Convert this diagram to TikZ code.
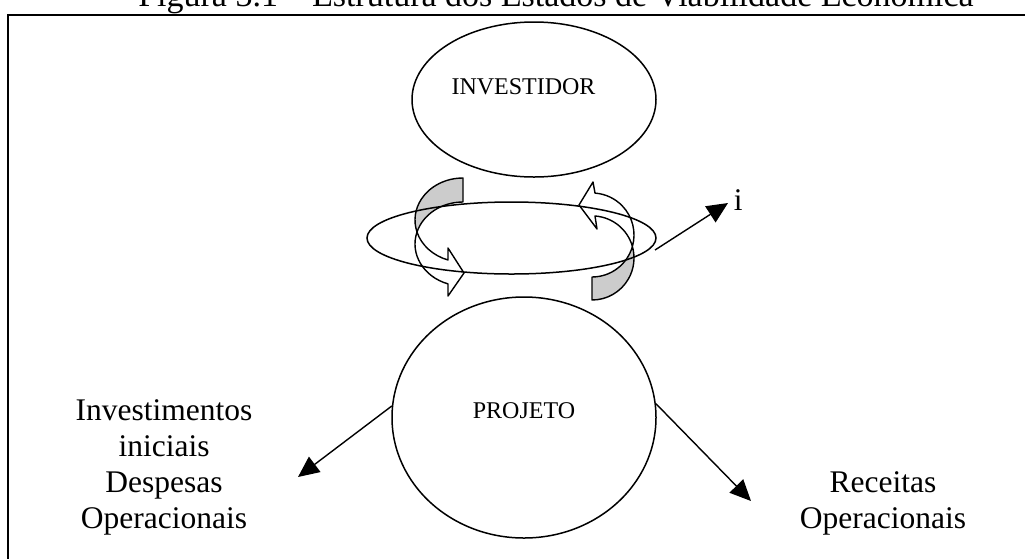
\documentclass[tikz,border=0pt]{standalone}
\usepackage{fontspec}
\setmainfont{Liberation Serif}
\usetikzlibrary{arrows.meta,shapes.geometric}
\begin{document}
\begin{tikzpicture}[x=1pt,y=-1pt,line width=1.5pt,
  big/.style={font=\fontsize{31.5}{35.7}\selectfont,align=center,inner sep=0pt},
  ttl/.style={font=\fontsize{34}{40}\selectfont,inner sep=0pt},
  small/.style={font=\fontsize{24}{28}\selectfont,inner sep=0pt},
  oval/.style={draw,ellipse,inner sep=0pt},
  conn/.style={-{Triangle[length=21pt,width=19pt]},line width=1.4pt},
  backface/.style={draw,fill=black!20,line width=1.4pt,line join=round},
  frontface/.style={draw,fill=white,line width=1.4pt,line join=round}]
\useasboundingbox (0,0) rectangle (1025,558);
% title and frame
\node[ttl,anchor=base] (title) at (556,6) {Figura 3.1 – Estrutura dos Estados de Viabilidade Econômica};
\draw[line width=1.8pt] (8,562) -- (8,15) -- (1030,15);
% investidor
\node[oval,minimum width=244pt,minimum height=155pt] (inv) at (534,99.5) {};
\node[small,anchor=base] (invl) at (523.5,94) {INVESTIDOR};
% projeto
\node[oval,minimum width=264pt,minimum height=241pt] (proj) at (524,417.5) {};
\node[small,anchor=base] (projl) at (524,418) {PROJETO};
% left curved arrow
\draw[backface] (463,178) arc[start angle=270,end angle=163.4,x radius=48,y radius=42]
  arc[start angle=196.6,end angle=270,x radius=48,y radius=42] -- cycle;
\draw[frontface] (417,232) arc[start angle=196.6,end angle=108.2,x radius=48,y radius=42]
  -- (448,296) -- (464,273) -- (448,248) -- (448,260)
  arc[start angle=108.2,end angle=163.4,x radius=48,y radius=42] -- cycle;
% right curved arrow
\draw[backface] (592,300) arc[start angle=90,end angle=-15.9,x radius=42,y radius=42]
  arc[start angle=15.9,end angle=90,x radius=42,y radius=42] -- cycle;
\draw[frontface] (632.4,246.5) arc[start angle=15.9,end angle=-85.9,x radius=42,y radius=42]
  -- (593,182) -- (579,205) -- (597,229) -- (595,216)
  arc[start angle=-85.9,end angle=-15.9,x radius=42,y radius=42] -- cycle;
% ring
\node[oval,minimum width=289pt,minimum height=72pt] (ring) at (511.5,238) {};
% i
\node[big,anchor=base west] (ilab) at (733,210) {i};
\coordinate (is) at (655,250);
\coordinate (ie) at (728,203);
\draw[conn] (is) -- (ie);
% side texts (base anchor = last line)
\node[big,anchor=base] (inv1) at (164,528) {Investimentos\\iniciais\\Despesas\\Operacionais};
\node[big,anchor=base] (rec) at (883,528) {Receitas\\Operacionais};
\coordinate (lt) at (298,477);
\coordinate (rt) at (751,501);
\draw[conn] (proj.175) -- (lt);
\draw[conn] (proj.6) -- (rt);
\end{tikzpicture}
\end{document}
